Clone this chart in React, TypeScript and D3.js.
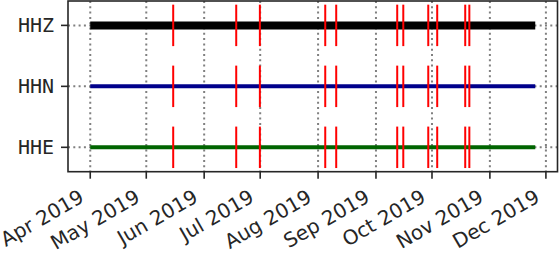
import React from "react";
import * as d3 from "d3";

// ---- data ----
const channels = ["HHE", "HHN", "HHZ"];
const channelColors = ["#006400", "#00008b", "#000000"];
const dataStart = "2019-04-01T00:00:00Z";
const dataEnd = "2019-11-25T07:00:00Z";
const eventDates = [
  "2019-05-15T10:00:00Z",
  "2019-06-18T04:00:00Z",
  "2019-06-30T20:00:00Z",
  "2019-08-04T20:00:00Z",
  "2019-08-10T17:00:00Z",
  "2019-09-12T09:00:00Z",
  "2019-09-15T15:00:00Z",
  "2019-09-29T00:00:00Z",
  "2019-10-03T19:00:00Z",
  "2019-10-18T19:00:00Z",
  "2019-10-21T00:00:00Z",
];
const tickStart = "2019-04-01T00:00:00Z";
const tickEnd = "2019-12-02T00:00:00Z";

// ---- layout / style ----
const W = 559;
const H = 253;
const plot = { left: 68, right: 557.5, top: 1, bottom: 171.7 };
const lineWidths = [4, 4, 8];
const axisColor = "#262626";
const gridColor = "#808080";
const fontSize = 20;

export default function App() {
  const t0 = new Date(dataStart);
  const t1 = new Date(dataEnd);
  const span = +t1 - +t0;
  const x = d3
    .scaleUtc()
    .domain([new Date(+t0 - 0.05 * span), new Date(+t1 + 0.05 * span)])
    .range([plot.left, plot.right]);
  const y = d3.scaleLinear().domain([-0.4, 2.4]).range([plot.bottom, plot.top]);
  const ticks = d3.utcMonth.range(new Date(tickStart), new Date(tickEnd));
  const fmt = d3.utcFormat("%b %Y");
  const events = eventDates.map((d) => new Date(d));
  const half = 0.34;

  return (
    <div style={{ position: "fixed", left: 0, top: 0 }}>
      <svg width={W} height={H} style={{ display: "block", background: "#fff" }}>
        {/* grid */}
        <g stroke={gridColor} strokeWidth={2} strokeDasharray="2 3.3" fill="none">
          {ticks.map((t, i) => (
            <line key={"gx" + i} x1={x(t)} x2={x(t)} y1={plot.top} y2={plot.bottom} />
          ))}
          {channels.map((c, i) => (
            <line key={"gy" + i} x1={plot.left} x2={plot.right} y1={y(i)} y2={y(i)} />
          ))}
        </g>
        {/* channel lines */}
        {channels.map((c, i) => (
          <line
            key={"l" + c}
            x1={x(t0)}
            x2={x(t1)}
            y1={y(i)}
            y2={y(i)}
            stroke={channelColors[i]}
            strokeWidth={lineWidths[i]}
          />
        ))}
        {/* events */}
        <g stroke="#ff0000" strokeWidth={2}>
          {channels.map((c, i) =>
            events.map((e, j) => (
              <line
                key={"e" + i + "_" + j}
                x1={x(e)}
                x2={x(e)}
                y1={y(i - half)}
                y2={y(i + half)}
              />
            ))
          )}
        </g>
        {/* frame */}
        <rect
          x={plot.left}
          y={plot.top}
          width={plot.right - plot.left}
          height={plot.bottom - plot.top}
          fill="none"
          stroke={axisColor}
          strokeWidth={1.6}
        />
        {/* y ticks */}
        {channels.map((c, i) => (
          <g key={"yt" + c}>
            <line x1={plot.left - 7} x2={plot.left} y1={y(i)} y2={y(i)} stroke={axisColor} strokeWidth={1.6} />
            <text
              x={plot.left - 14}
              y={y(i) + 6.8}
              textAnchor="end"
              fontFamily="DejaVu Sans Mono"
              fontSize={fontSize}
              fill={axisColor}
            >
              {c}
            </text>
          </g>
        ))}
        {/* x ticks */}
        {ticks.map((t, i) => {
          const tx = x(t);
          const ax = tx - 5;
          const ay = 201;
          return (
            <g key={"xt" + i}>
              <line x1={tx} x2={tx} y1={plot.bottom} y2={plot.bottom + 7} stroke={axisColor} strokeWidth={1.6} />
              <text
                x={ax}
                y={ay}
                textAnchor="end"
                transform={`rotate(-30 ${ax} ${ay})`}
                fontFamily="DejaVu Sans"
                fontSize={fontSize}
                fill={axisColor}
              >
                {fmt(t)}
              </text>
            </g>
          );
        })}
      </svg>
    </div>
  );
}
